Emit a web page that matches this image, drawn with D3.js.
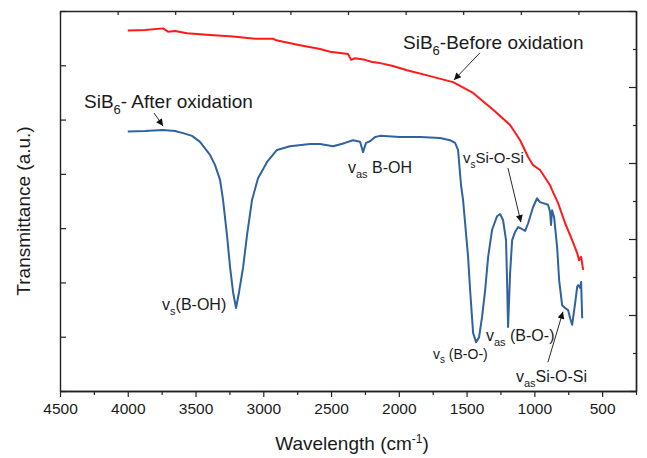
<!DOCTYPE html>
<html>
<head>
<meta charset="utf-8">
<script src="https://cdn.jsdelivr.net/npm/d3@7"></script>
<style>
  body { margin: 0; background: #fff; }
  text { font-family: "Liberation Sans", Arial, sans-serif; fill: #1a1a1a; }
</style>
</head>
<body>
<div id="chart"></div>
<script>
// wavenumber (cm-1) and transmittance (a.u.)
var beforeWave = [4000, 3873, 3740, 3703, 3651, 3563, 3393, 3223, 3061, 2928, 2905, 2729, 2581, 2507, 2375, 2352, 2323, 2249, 2197, 2138, 2050, 1939, 1769, 1600, 1452, 1304, 1179, 1105, 1046, 1009, 958, 884, 869, 825, 773, 721, 684, 670, 655, 640];
var beforeT    = [6.64, 6.65, 6.68, 6.62, 6.63, 6.59, 6.56, 6.53, 6.49, 6.49, 6.46, 6.37, 6.30, 6.25, 6.21, 6.10, 6.13, 6.10, 6.06, 6.04, 5.99, 5.91, 5.80, 5.69, 5.49, 5.18, 4.90, 4.62, 4.31, 4.16, 4.07, 3.79, 3.70, 3.46, 3.09, 2.78, 2.54, 2.41, 2.47, 2.23];

var afterWave = [4000, 3873, 3740, 3651, 3592, 3526, 3467, 3393, 3356, 3319, 3297, 3268, 3245, 3223, 3201, 3179, 3149, 3120, 3083, 3039, 2972, 2899, 2803, 2655, 2581, 2485, 2397, 2338, 2286, 2264, 2242, 2212, 2175, 2138, 1991, 1843, 1696, 1622, 1585, 1563, 1541, 1526, 1489, 1474, 1452, 1430, 1408, 1386, 1363, 1341, 1312, 1275, 1253, 1231, 1209, 1201, 1194, 1179, 1164, 1142, 1120, 1090, 1068, 1046, 1009, 980, 958, 935, 899, 884, 877, 869, 854, 832, 817, 795, 773, 751, 736, 721, 699, 684, 677, 662, 655, 647];
var afterT    = [4.78, 4.79, 4.81, 4.79, 4.75, 4.70, 4.59, 4.35, 4.16, 3.89, 3.52, 2.87, 2.28, 1.82, 1.53, 1.82, 2.28, 2.87, 3.52, 3.92, 4.22, 4.44, 4.51, 4.55, 4.55, 4.51, 4.57, 4.62, 4.59, 4.40, 4.57, 4.60, 4.68, 4.70, 4.68, 4.68, 4.66, 4.62, 4.57, 4.44, 3.79, 3.52, 2.47, 1.86, 1.07, 0.90, 0.99, 1.36, 1.86, 2.47, 2.97, 3.22, 3.26, 3.15, 2.78, 1.99, 1.18, 2.17, 2.78, 2.93, 3.02, 2.98, 2.95, 3.09, 3.39, 3.55, 3.48, 3.46, 3.43, 3.30, 3.06, 3.33, 3.20, 2.65, 2.04, 1.58, 1.53, 1.49, 1.34, 1.22, 1.62, 1.92, 1.95, 1.90, 2.01, 1.34];

var xTicks = [4500, 4000, 3500, 3000, 2500, 2000, 1500, 1000, 500];
var xMinor = [4250, 3750, 3250, 2750, 2250, 1750, 1250, 750, 250];

// annotation labels: [parts], anchor wavenumber, transmittance
var labels = [
  {parts: [["SiB", 0], ["6", 1], ["- After oxidation", 0]], w: 4323, t: 5.21, size: 19},
  {parts: [["SiB", 0], ["6", 1], ["-Before oxidation", 0]], w: 1969, t: 6.30, size: 19},
  {parts: [["v", 0], ["as", 1], [" B-OH", 0]], w: 2375, t: 4.02, size: 16},
  {parts: [["v", 0], ["s", 1], ["Si-O-Si", 0]], w: 1527, t: 4.20, size: 15},
  {parts: [["v", 0], ["s", 1], ["(B-OH)", 0]], w: 3747, t: 1.49, size: 16},
  {parts: [["v", 0], ["s", 1], [" (B-O-)", 0]], w: 1748, t: 0.59, size: 14},
  {parts: [["v", 0], ["as", 1], [" (B-O-)", 0]], w: 1357, t: 0.92, size: 16},
  {parts: [["v", 0], ["as", 1], ["Si-O-Si", 0]], w: 1136, t: 0.17, size: 16}
];
var arrows = [
  {w1: 3806, t1: 5.12, w2: 3740, t2: 4.88},
  {w1: 1401, t1: 6.23, w2: 1593, t2: 5.73},
  {w1: 1195, t1: 4.11, w2: 1099, t2: 3.11},
  {w1: 900, t1: 0.53, w2: 789, t2: 1.46}
];

var margin = {top: 11, right: 11, bottom: 67, left: 60},
    width = 647 - margin.left - margin.right,
    height = 458 - margin.top - margin.bottom;

var svg = d3.select("#chart")
  .append("svg")
    .attr("width", 647)
    .attr("height", 458)
  .append("g")
    .attr("transform", "translate(" + margin.left + "," + margin.top + ")");

var x = d3.scaleLinear().domain([4500, 250]).range([0, width]);
var y = d3.scaleLinear().domain([0, 7]).range([height, 0]);
var yRight = d3.scaleLinear().domain([0, 10]).range([height, 0]);
var xTop = d3.scaleLinear().domain([0, 10]).range([0, width]);

svg.append("defs").append("marker")
    .attr("id", "arrow")
    .attr("viewBox", "0 0 10 10")
    .attr("refX", 10).attr("refY", 5)
    .attr("markerWidth", 9).attr("markerHeight", 7)
    .attr("markerUnits", "userSpaceOnUse")
    .attr("orient", "auto")
  .append("path")
    .attr("d", "M0,0L10,5L0,10z")
    .attr("fill", "#111");

// curves
var line = d3.line()
  .x(function(d) { return x(d[0]); })
  .y(function(d) { return y(d[1]); });

svg.append("path")
  .datum(d3.zip(beforeWave, beforeT))
  .attr("fill", "none")
  .attr("stroke", "#ff1a1a")
  .attr("stroke-width", 2)
  .attr("stroke-linejoin", "round")
  .attr("d", line);

svg.append("path")
  .datum(d3.zip(afterWave, afterT))
  .attr("fill", "none")
  .attr("stroke", "#2f62a0")
  .attr("stroke-width", 2)
  .attr("stroke-linejoin", "round")
  .attr("d", line);

// axes
function styleAxis(g) {
  g.selectAll("path").attr("stroke", "#222").attr("stroke-width", 1.4);
  g.selectAll("line").attr("stroke", "#222").attr("stroke-width", 1.2);
}

svg.append("g")
  .attr("transform", "translate(0," + height + ")")
  .call(d3.axisBottom(x).tickValues(xMinor).tickSize(4).tickSizeOuter(0).tickFormat(""))
  .call(styleAxis);

svg.append("g")
  .attr("transform", "translate(0," + height + ")")
  .call(d3.axisBottom(x).tickValues(xTicks).tickSize(6).tickSizeOuter(0).tickPadding(6).tickFormat(d3.format("d")))
  .call(styleAxis)
  .selectAll("text")
    .style("font-size", "15.5px")
    .attr("fill", "#1a1a1a");

svg.append("g")
  .call(d3.axisTop(xTop).ticks(10).tickSize(-4).tickSizeOuter(0).tickFormat(""))
  .call(styleAxis);

svg.append("g")
  .call(d3.axisLeft(y).ticks(7).tickSize(-6).tickSizeOuter(0).tickFormat(""))
  .call(styleAxis);

svg.append("g")
  .attr("transform", "translate(" + width + ",0)")
  .call(d3.axisRight(yRight).tickValues([1, 3, 5, 7, 9]).tickSize(-3).tickSizeOuter(0).tickFormat(""))
  .call(styleAxis);

svg.append("g")
  .attr("transform", "translate(" + width + ",0)")
  .call(d3.axisRight(yRight).tickValues([0, 2, 4, 6, 8, 10]).tickSize(-7).tickSizeOuter(0).tickFormat(""))
  .call(styleAxis);

// axis titles
var xt = svg.append("text")
  .attr("x", width / 2 + 4)
  .attr("y", height + 59)
  .attr("text-anchor", "middle")
  .style("font-size", "19px");
xt.append("tspan").text("Wavelength (cm");
xt.append("tspan").attr("dy", -7).style("font-size", "12px").text("-1");
xt.append("tspan").attr("dy", 7).text(")");

svg.append("text")
  .attr("transform", "translate(-30," + (height / 2 + 10) + ") rotate(-90)")
  .attr("text-anchor", "middle")
  .style("font-size", "19px")
  .text("Transmittance (a.u.)");

// annotations
labels.forEach(function(l) {
  var t = svg.append("text")
    .attr("x", x(l.w))
    .attr("y", y(l.t))
    .style("font-size", l.size + "px");
  var sub = false;
  l.parts.forEach(function(p) {
    var s = t.append("tspan").text(p[0]);
    if (p[1] && !sub) {
      s.attr("dy", l.size * 0.3).style("font-size", Math.round(l.size * 0.68) + "px");
      sub = true;
    } else if (!p[1] && sub) {
      s.attr("dy", -l.size * 0.3);
      sub = false;
    }
  });
});

svg.selectAll(".arrow")
  .data(arrows)
  .enter().append("line")
    .attr("class", "arrow")
    .attr("x1", function(d) { return x(d.w1); })
    .attr("y1", function(d) { return y(d.t1); })
    .attr("x2", function(d) { return x(d.w2); })
    .attr("y2", function(d) { return y(d.t2); })
    .attr("stroke", "#111")
    .attr("stroke-width", 0.9)
    .attr("marker-end", "url(#arrow)");
</script>
</body>
</html>
